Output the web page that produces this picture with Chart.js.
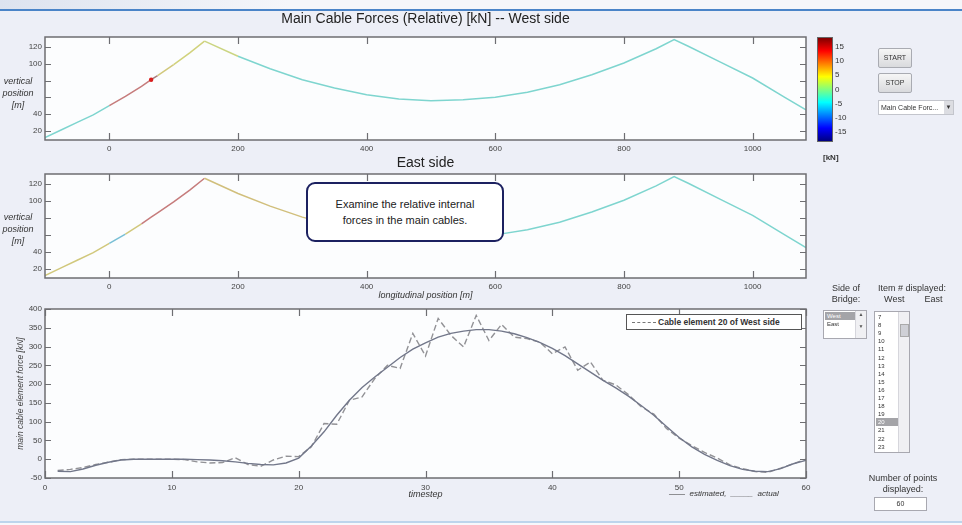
<!DOCTYPE html>
<html lang="en">
<head>
<meta charset="UTF-8">
<title>Main Cable Forces</title>
<script src="https://cdn.jsdelivr.net/npm/chart.js"></script>
<style>
  body { margin:0; width:962px; height:525px; overflow:hidden; position:relative;
         background:#edeff7; font-family:"Liberation Sans", Arial, sans-serif; color:#222; }
  canvas { position:absolute; }
  .abs { position:absolute; }
  .topstrip { left:0; top:0; width:962px; height:9px; background:linear-gradient(90deg,#dde3ef,#f5f6fa 30%,#f5f6fa); border-bottom:2px solid #4a84c8; }
  .botstrip { left:0; top:521px; width:962px; height:4px; background:#f7f8fb; border-top:2px solid #bdd5ec; }
  .ylab { font-style:italic; font-size:9px; line-height:12px; text-align:center; width:40px; color:#333; }
  .note { left:306px; top:182px; width:198px; height:60px; border:2.5px solid #1c2160; border-radius:9px;
          background:#fff; font-size:11px; line-height:16px; text-align:center; box-sizing:border-box; padding-top:12px; color:#222; }
  .btn { left:878px; width:34px; height:20px; box-sizing:border-box; border:1px solid #a9abb2; border-radius:2px;
         background:linear-gradient(#f6f6f6,#d9dadd); font-size:7px; line-height:18px; text-align:center; color:#333; }
  .drop { left:878px; top:100px; width:76px; height:15px; box-sizing:border-box; border:1px solid #c3c5cc; background:#fff;
          font-size:7px; line-height:13px; padding-left:2px; color:#333; }
  .drop span { position:absolute; right:0; top:0; width:9px; height:13px; background:#dcdde2; text-align:center; font-size:6px; }
  .cbar { left:817px; top:37px; width:16px; height:105px; box-sizing:border-box; border:1px solid #666;
          background:linear-gradient(to bottom,#800000 0%,#ff0000 12.5%,#ffff00 37.5%,#00ffff 62.5%,#0000ff 87.5%,#000080 100%); }
  .cbt { left:835px; font-size:8px; color:#333; }
  .lbl { font-size:9px; line-height:11px; text-align:center; color:#333; }
  .list { background:#fff; border:1px solid #a8a8b0; box-sizing:border-box; overflow:hidden; }
  .row { position:absolute; left:1px; font-size:6px; line-height:8px; padding-left:2px; color:#333; }
  .sel { background:#a4a4a8; color:#fff; }
  .sb { position:absolute; top:0; bottom:0; right:0; width:10px; background:#f0f0f3; border-left:1px solid #d6d6dc; font-size:5px; text-align:center; color:#555; }
  .legend { left:626px; top:314px; width:176px; height:16px; box-sizing:border-box; border:1px solid #555; background:#fff;
            font-size:8.5px; font-weight:bold; line-height:14px; color:#333; white-space:nowrap; }
  .legend i { display:inline-block; width:24px; margin:0 2px 0 5px; border-top:1.5px dashed #777; vertical-align:middle; }
</style>
</head>
<body>

<div class="abs topstrip"></div>

<canvas id="west" width="830" height="160" style="left:0;top:0"></canvas>
<canvas id="east" width="830" height="152" style="left:0;top:150px"></canvas>
<canvas id="force" width="830" height="205" style="left:0;top:300px"></canvas>

<div class="abs ylab" style="left:-2px;top:75px">vertical<br>position<br>[m]</div>
<div class="abs ylab" style="left:-2px;top:211px">vertical<br>position<br>[m]</div>

<div class="abs note">Examine the relative internal<br>forces in the main cables.</div>

<div class="abs cbar"></div>
<div id="cbticks"></div>
<div class="abs cbt" style="left:823px;top:153px;font-weight:bold">[kN]</div>

<div class="abs btn" style="top:48px">START</div>
<div class="abs btn" style="top:73px">STOP</div>
<div class="abs drop">Main Cable Forc...<span>&#9660;</span></div>

<div class="abs legend"><i></i><span id="legtext"></span></div>
<div class="abs" style="left:669px;top:489px;font-size:8px;font-style:italic;color:#333">&mdash;&mdash;&nbsp; estimated, &nbsp;_____&nbsp; actual</div>

<div class="abs lbl" style="left:824px;top:283px;width:44px">Side of<br>Bridge:</div>
<div class="abs list" style="left:823px;top:310px;width:44px;height:29px">
  <div class="row sel" style="top:1px;width:31px">West</div>
  <div class="row" style="top:9px">East</div>
  <div class="sb">&#9650;<br><br>&#9660;</div>
</div>

<div class="abs lbl" style="left:872px;top:283px;width:80px">Item # displayed:<br>&nbsp;West &nbsp; &nbsp; &nbsp; &nbsp;East</div>
<div class="abs list" id="items" style="left:874px;top:311px;width:36px;height:142px">
  <div class="sb"><div style="position:absolute;left:1px;top:12px;width:7px;height:11px;background:#cfd0d6;border:1px solid #aaa"></div></div>
</div>

<div class="abs lbl" style="left:866px;top:473px;width:74px">Number of points<br>displayed:</div>
<div class="abs list" style="left:874px;top:497px;width:53px;height:14px;font-size:7px;line-height:12px;text-align:center;color:#333">60</div>

<div class="abs botstrip"></div>

<script>
// cable geometry (longitudinal position / vertical position, m)
const cableX = [-100,-75,-50,-25,0,25,50,65,75,100,125,148,
                200,250,300,350,400,450,500,550,600,650,700,750,800,850,878,
                900,950,1000,1050,1083];
const cableY = [12,21,30,39,50,61,73,81,86,99,113,127,
                109,94,81,71,63,58,56,57,60,66,75,87,101,118,129,
                121,102,83,60,45];
// relative internal force per cable element [kN]
const westForce = [-4,-4,-4,-4,15,15,15,18,6,5,5,4,
                   -4,-4,-4,-4,-4,-4,-4,-4,-4,-4,-4,-4,-4,-4,-4,
                   -4,-4,-4,-4,-4];
const eastForce = [6,6,6,6,-7,6,15,15,15,15,15,7,
                   7,7,7,-4,-4,-4,-4,-4,-4,-4,-4,-4,-4,-4,-4,
                   -4,-4,-4,-4,-4];
const posTicks = [0,200,400,600,800,1000];
const heightTicks = [20,40,60,80,100,120];
const colorbarTicks = [15,10,5,0,-5,-10,-15];

// time history of cable element 20
const timestep = [1,2,3,4,5,6,7,8,9,10,11,12,13,14,15,16,17,18,19,20,
                  21,22,23,24,25,26,27,28,29,30,31,32,33,34,35,36,37,38,39,40,
                  41,42,43,44,45,46,47,48,49,50,51,52,53,54,55,56,57,58,59,60];
const estimated = [-30,-27,-22,-14,-8,-1,0,0,0,0,-1,-7,-10,-9,4,-14,-19,-2,8,7,
                   33,95,93,157,166,215,250,242,335,275,375,330,299,383,316,359,325,321,312,281,
                   299,237,259,210,198,172,140,120,82,56,36,18,3,-15,-25,-33,-35,-24,-12,0];
const actual = [-32,-33,-26,-16,-8,-2,0,0,0,0,0,-1,-2,-4,-7,-11,-14,-15,-10,3,
                35,73,117,157,191,219,245,271,293,310,325,335,341,345,345,341,334,324,311,295,
                276,254,232,210,190,168,143,117,87,58,33,13,-3,-17,-27,-32,-33,-25,-12,-3];
const itemNumbers = [7,8,9,10,11,12,13,14,15,16,17,18,19,20,21,22,23];

const CB_MIN = -18.5, CB_MAX = 18.5;
const FONT = "'Liberation Sans', Arial, sans-serif";

function jet(v) {
  const t = Math.min(1, Math.max(0, (v - CB_MIN) / (CB_MAX - CB_MIN)));
  const c = k => Math.round(255 * Math.min(1, Math.max(0, 1.5 - Math.abs(4 * t - k))));
  return [c(3), c(2), c(1)];
}
// washed-out jet colour, like the video capture
function forceColor(v) {
  const [r, g, b] = jet(v);
  return 'rgb(' + Math.round(r * 0.35 + 120) + ',' + Math.round(g * 0.35 + 124) + ',' + Math.round(b * 0.35 + 124) + ')';
}

// matlab style box with inward ticks on all sides
const matlabBox = {
  id: 'matlabBox',
  beforeDatasetsDraw(chart) {
    const { ctx, chartArea: a } = chart;
    ctx.save();
    ctx.fillStyle = '#fcfdfe';
    ctx.fillRect(a.left, a.top, a.width, a.height);
    ctx.restore();
  },
  afterDraw(chart) {
    const { ctx, chartArea: a, scales: { x, y } } = chart;
    ctx.save();
    ctx.strokeStyle = '#6e6e72';
    ctx.lineWidth = 1.2;
    ctx.beginPath();
    x.ticks.forEach(t => {
      const px = Math.round(x.getPixelForValue(t.value)) + 0.5;
      ctx.moveTo(px, a.bottom); ctx.lineTo(px, a.bottom - 7);
      ctx.moveTo(px, a.top); ctx.lineTo(px, a.top + 7);
    });
    y.ticks.forEach(t => {
      const py = Math.round(y.getPixelForValue(t.value)) + 0.5;
      ctx.moveTo(a.left, py); ctx.lineTo(a.left + 6, py);
      ctx.moveTo(a.right, py); ctx.lineTo(a.right - 6, py);
    });
    ctx.stroke();
    ctx.lineWidth = 1.5;
    ctx.strokeRect(a.left, a.top, a.width, a.height);
    ctx.restore();
  }
};

function cableChart(id, titleText, force, titlePad, xTitle, xHeight) {
  return new Chart(document.getElementById(id), {
    type: 'line',
    data: {
      datasets: [{
        data: cableX.map((x, i) => ({ x: x, y: cableY[i] })),
        borderWidth: 1.5,
        pointRadius: force.map(f => f >= 17 ? 2.2 : 0),
        pointBackgroundColor: '#d81e1e',
        pointBorderWidth: 0,
        segment: { borderColor: c => forceColor(force[c.p0DataIndex]) }
      }]
    },
    options: {
      responsive: false,
      animation: false,
      layout: { padding: { top: 0, right: 24, left: 0, bottom: 0 } },
      plugins: {
        legend: { display: false },
        tooltip: { enabled: false },
        title: { display: true, text: titleText, fullSize: false, color: '#222',
                 font: { size: 14, family: FONT, weight: 'normal' }, padding: titlePad }
      },
      scales: {
        x: {
          type: 'linear', min: -100, max: 1083,
          afterBuildTicks: s => { s.ticks = posTicks.map(v => ({ value: v })); },
          ticks: { font: { size: 8, family: FONT }, color: '#444', padding: 4, maxRotation: 0,
                   callback: v => String(v) },
          grid: { display: false, drawTicks: false },
          border: { display: false },
          title: { display: !!xTitle, text: xTitle, color: '#333',
                   font: { size: 9, style: 'italic', family: FONT }, padding: { top: 0, bottom: 1.6 } },
          afterFit: s => { s.height = xHeight; }
        },
        y: {
          min: 9, max: 132,
          afterBuildTicks: s => { s.ticks = heightTicks.map(v => ({ value: v })); },
          ticks: { font: { size: 8, family: FONT }, color: '#444', padding: 3,
                   callback: v => (v === 60 || v === 80) ? '' : String(v) },
          grid: { display: false, drawTicks: false },
          border: { display: false },
          afterFit: s => { s.width = 45; }
        }
      }
    },
    plugins: [matlabBox]
  });
}

cableChart('west', 'Main Cable Forces (Relative) [kN] -- West side', westForce,
           { top: 10.6, bottom: 9.6 }, '', 20);
cableChart('east', 'East side', eastForce,
           { top: 4.6, bottom: 2.6 }, 'longitudinal position [m]', 24);

const forceChart = new Chart(document.getElementById('force'), {
  type: 'line',
  data: {
    datasets: [{
      label: 'actual',
      data: timestep.map((t, i) => ({ x: t, y: actual[i] })),
      borderColor: '#72778a',
      borderWidth: 1.4,
      pointRadius: 0
    }, {
      label: 'Cable element 20 of West side',
      data: timestep.map((t, i) => ({ x: t, y: estimated[i] })),
      borderColor: '#929296',
      borderWidth: 1.4,
      borderDash: [6, 3],
      pointRadius: 0
    }]
  },
  options: {
    responsive: false,
    animation: false,
    layout: { padding: { top: 9, right: 24, left: 0, bottom: 0 } },
    plugins: { legend: { display: false }, tooltip: { enabled: false } },
    scales: {
      x: {
        type: 'linear', min: 0, max: 60,
        ticks: { stepSize: 10, font: { size: 8, family: FONT }, color: '#444', padding: 5, maxRotation: 0 },
        grid: { display: false, drawTicks: false },
        border: { display: false },
        title: { display: true, text: 'timestep', color: '#333',
                 font: { size: 9, style: 'italic', family: FONT }, padding: { top: 0, bottom: 5.6 } },
        afterFit: s => { s.height = 27; }
      },
      y: {
        min: -50, max: 400,
        ticks: { stepSize: 50, font: { size: 8, family: FONT }, color: '#444', padding: 3 },
        grid: { display: false, drawTicks: false },
        border: { display: false },
        title: { display: true, text: 'main cable element force [kN]', color: '#444',
                 font: { size: 8.5, style: 'italic', family: FONT }, padding: { top: 16, bottom: 0 } },
        afterFit: s => { s.width = 45; }
      }
    }
  },
  plugins: [matlabBox]
});

document.getElementById('legtext').textContent = forceChart.data.datasets[1].label;

// colorbar tick labels
const cb = document.getElementById('cbticks');
colorbarTicks.forEach(v => {
  const d = document.createElement('div');
  d.className = 'abs cbt';
  d.style.top = (37 + (CB_MAX - v) / (CB_MAX - CB_MIN) * 105 - 5) + 'px';
  d.textContent = v;
  cb.appendChild(d);
});

// item list
const items = document.getElementById('items');
itemNumbers.forEach((n, i) => {
  const d = document.createElement('div');
  d.className = 'row' + (n === 20 ? ' sel' : '');
  d.style.top = (1 + i * 8.1) + 'px';
  d.style.width = '20px';
  d.textContent = n;
  items.appendChild(d);
});
</script>
</body>
</html>
